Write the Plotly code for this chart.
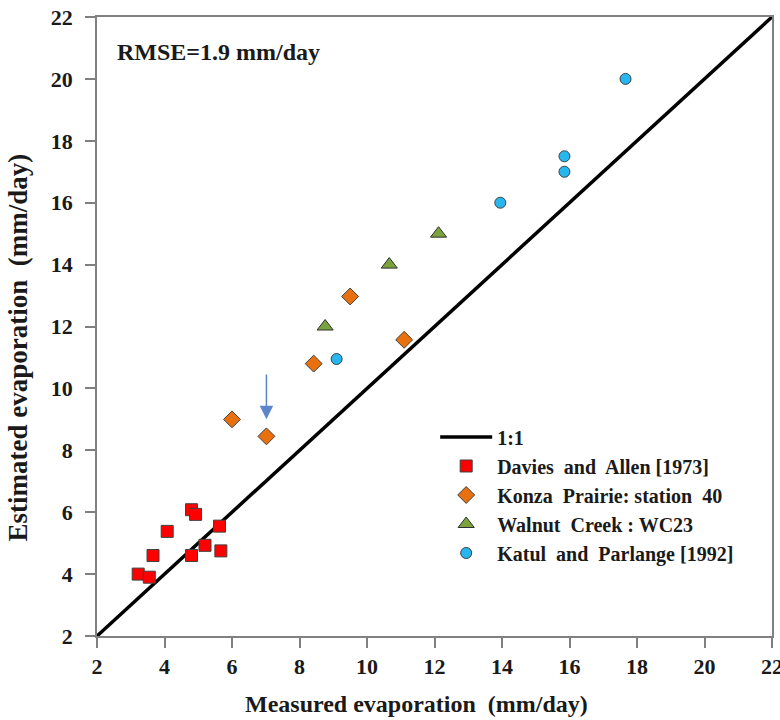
import plotly.graph_objects as go

# 1:1 line
line_x = [2, 22]
line_y = [2, 22]

davies_x = [3.22, 3.55, 3.66, 4.08, 4.8, 4.92, 4.8, 5.2, 5.63, 5.67]
davies_y = [4.0, 3.9, 4.6, 5.38, 6.08, 5.93, 4.6, 4.93, 5.55, 4.75]

konza_x = [6.0, 7.02, 8.42, 9.5, 11.1]
konza_y = [9.0, 8.45, 10.8, 12.97, 11.57]

walnut_x = [8.76, 10.66, 12.12]
walnut_y = [12.0, 14.0, 15.0]

katul_x = [9.1, 13.95, 15.85, 15.85, 17.66]
katul_y = [10.95, 16.0, 17.5, 17.0, 20.0]

arrow_x = 7.02
arrow_tail_y = 10.5
arrow_tip_y = 9.0

ticks = [2, 4, 6, 8, 10, 12, 14, 16, 18, 20, 22]

FONT = "Liberation Serif"
TXT = "#1a1a1a"
fig = go.Figure()
fig.add_trace(go.Scatter(x=line_x, y=line_y, mode="lines", name="1:1",
                         line=dict(color="black", width=3.5)))
fig.add_trace(go.Scatter(x=davies_x, y=davies_y, mode="markers", name="Davies  and  Allen [1973]",
                         marker=dict(symbol="square", size=12, color="#FF0000",
                                     line=dict(color="#404040", width=1))))
fig.add_trace(go.Scatter(x=konza_x, y=konza_y, mode="markers", name="Konza  Prairie: station  40",
                         marker=dict(symbol="diamond", size=13, color="#E8700F",
                                     line=dict(color="#404040", width=1))))
fig.add_trace(go.Scatter(x=walnut_x, y=walnut_y, mode="markers", name="Walnut  Creek : WC23",
                         marker=dict(symbol="triangle-up", size=14, color="#7AA33C",
                                     line=dict(color="#303030", width=1))))
fig.add_trace(go.Scatter(x=katul_x, y=katul_y, mode="markers", name="Katul  and  Parlange [1992]",
                         marker=dict(symbol="circle", size=11, color="#27B7EE",
                                     line=dict(color="#404040", width=1))))

fig.add_annotation(x=arrow_x, y=arrow_tip_y, ax=arrow_x, ay=arrow_tail_y,
                   xref="x", yref="y", axref="x", ayref="y", showarrow=True,
                   arrowhead=2, arrowsize=1.8, arrowwidth=1.5, arrowcolor="#5B86C9", text="")

fig.add_annotation(x=0.027, y=0.944, xref="paper", yref="paper", xanchor="left", yanchor="middle",
                   text="RMSE=1.9 mm/day", showarrow=False,
                   font=dict(family=FONT, size=24, color=TXT, weight="bold"))

# axis titles
fig.add_annotation(x=0.474, y=-0.11, xref="paper", yref="paper", xanchor="center", yanchor="middle",
                   text="Measured evaporation  (mm/day)", showarrow=False,
                   font=dict(family=FONT, size=24, color=TXT, weight="bold"))
fig.add_annotation(x=-0.117, y=0.466, xref="paper", yref="paper", xanchor="center", yanchor="middle",
                   text="Estimated evaporation  (mm/day)", showarrow=False, textangle=-90,
                   font=dict(family=FONT, size=27, color=TXT, weight="bold"))

axis_common = dict(range=[2, 22], tickvals=ticks, showgrid=False, zeroline=False,
                   showline=True, linecolor="#808080", linewidth=1.5, mirror=True,
                   ticks="outside", ticklen=10, tickcolor="#808080", tickwidth=1.5,
                   automargin=False, ticklabeloverflow="allow",
                   tickfont=dict(family=FONT, size=22, color=TXT, weight="bold"))
fig.update_xaxes(**axis_common)
fig.update_yaxes(**axis_common, ticklabelstandoff=8)

fig.update_layout(
    width=780, height=720,
    margin=dict(l=97, r=8, t=17, b=84),
    plot_bgcolor="white", paper_bgcolor="white",
    showlegend=True,
    legend=dict(x=0.501, y=0.353, xanchor="left", yanchor="top",
                bgcolor="rgba(0,0,0,0)", font=dict(family=FONT, size=20, color=TXT, weight="bold"),
                itemwidth=52, tracegroupgap=0),
)

fig.write_html("out.html", config={"displayModeBar": False},
               post_script="document.body.style.margin='0';document.body.style.padding='0';"
                           "document.body.style.overflow='hidden';")
